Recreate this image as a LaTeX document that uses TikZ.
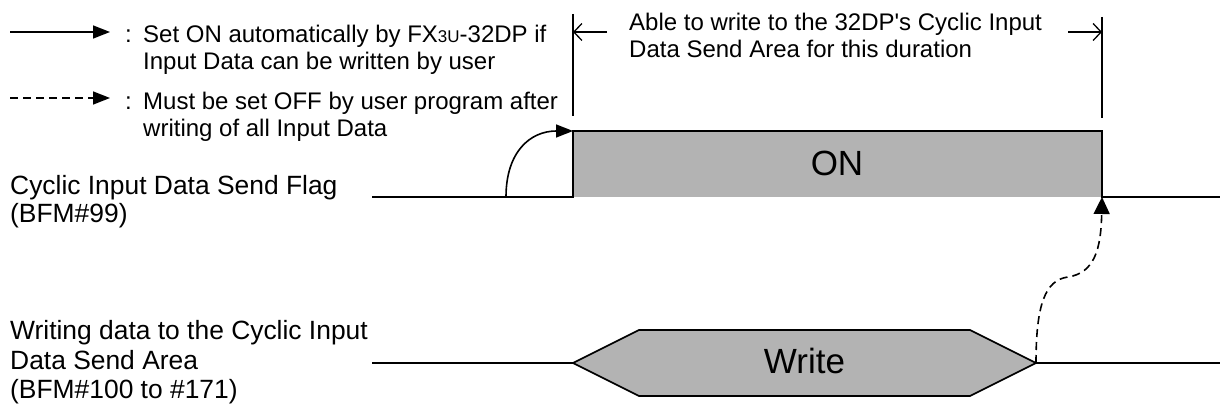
\documentclass[tikz,border=0pt]{standalone}
\usepackage{fontspec}
\setmainfont{Liberation Sans}
\usetikzlibrary{arrows.meta}
\definecolor{siggray}{HTML}{B3B3B3}
\begin{document}
\begin{tikzpicture}[x=1pt,y=-1pt,
  sig/.style={line width=1.6pt, line join=miter},
  lbl/.style={anchor=base west, inner sep=0pt, font=\fontsize{26.4}{29}\selectfont},
  note/.style={anchor=base west, inner sep=0pt, font=\fontsize{24}{27}\selectfont},
  big/.style={anchor=base, inner sep=0pt, font=\fontsize{35}{37}\selectfont},
  filltip/.style={-{Triangle[length=17pt,width=13pt]}},
  dimline/.style={line width=1.3pt},
  dimtip/.style={-{Straight Barb[length=8pt,width=17pt]}, line width=1.3pt},
  dashline/.style={line width=1.6pt, dash pattern=on 8pt off 5pt},
]
\useasboundingbox (0,0) rectangle (1220,411);

% ---------- legend ----------
\coordinate (l1a) at (10,32);  \coordinate (l1b) at (110,32);
\coordinate (l2a) at (10,98);  \coordinate (l2b) at (110,98);
\draw[sig, filltip] (l1a) -- (l1b);
\draw[dashline, filltip] (l2a) -- (l2b);
\node[note] (c1) at (125,43) {:};
\node[note] (c2) at (125,110) {:};
\node[note] (t1) at (143,43) {Set ON automatically by FX{\fontsize{17}{17}\selectfont 3U}-32DP if};
\node[note] (t2) at (143,70) {Input Data can be written by user};
\node[note] (t3) at (143,110) {Must be set OFF by user program after};
\node[note] (t4) at (143,137) {writing of all Input Data};

% ---------- duration ----------
\coordinate (v1t) at (573,14);   \coordinate (v1b) at (573,116);
\coordinate (v2t) at (1102,17);  \coordinate (v2b) at (1102,118);
\draw[dimline] (v1t) -- (v1b);
\draw[dimline] (v2t) -- (v2b);
\coordinate (d1s) at (607,32);  \coordinate (d1e) at (573,32);
\coordinate (d2s) at (1068,32); \coordinate (d2e) at (1102,32);
\draw[dimtip] (d1s) -- (d1e);
\draw[dimtip] (d2s) -- (d2e);
\node[note] (dur1) at (629,31) {Able to write to the 32DP\textquotesingle s Cyclic Input};
\node[note] (dur2) at (629,58) {Data Send Area for this duration};

% ---------- signal 1 ----------
\coordinate (s1a) at (372,197);
\coordinate (s1b) at (573,197);
\coordinate (s1c) at (573,131);
\coordinate (s1d) at (1102,131);
\coordinate (s1e) at (1102,197);
\coordinate (s1f) at (1220,197);
\fill[siggray] (s1c) rectangle (s1e);
\draw[sig] (s1a) -- (s1b) -- (s1c) -- (s1d) -- (s1e) -- (s1f);
\node[big] (on) at (837,176) {ON};
\node[lbl] (n1a) at (10,195) {Cyclic Input Data Send Flag};
\node[lbl] (n1b) at (10,223) {(BFM\#99)};

% rising arrow
\coordinate (ra) at (506,197);
\draw[sig, filltip] (ra) .. controls (506,152) and (530,131) .. (s1c);

% ---------- signal 2 ----------
\coordinate (s2a) at (372,363);
\coordinate (h1) at (573,363);
\coordinate (h2) at (639,330);
\coordinate (h3) at (970,330);
\coordinate (h4) at (1036,363);
\coordinate (h5) at (970,396);
\coordinate (h6) at (639,396);
\coordinate (s2f) at (1220,363);
\draw[sig] (s2a) -- (h1);
\draw[sig, fill=siggray] (h1) -- (h2) -- (h3) -- (h4) -- (h5) -- (h6) -- cycle;
\draw[sig] (h4) -- (s2f);
\node[big] (wr) at (804.5,373) {Write};
\node[lbl] (n2a) at (10,340) {Writing data to the Cyclic Input};
\node[lbl] (n2b) at (10,369) {Data Send Area};
\node[lbl] (n2c) at (10,398) {(BFM\#100 to \#171)};

% falling request arrow
\coordinate (fm) at (1068,277);
\draw[dashline, -{Triangle[length=17pt,width=16pt]}] (h4) .. controls (1036,305) and (1045,280) .. (fm) .. controls (1094,273) and (1101,250) .. (s1e);
\end{tikzpicture}
\end{document}
